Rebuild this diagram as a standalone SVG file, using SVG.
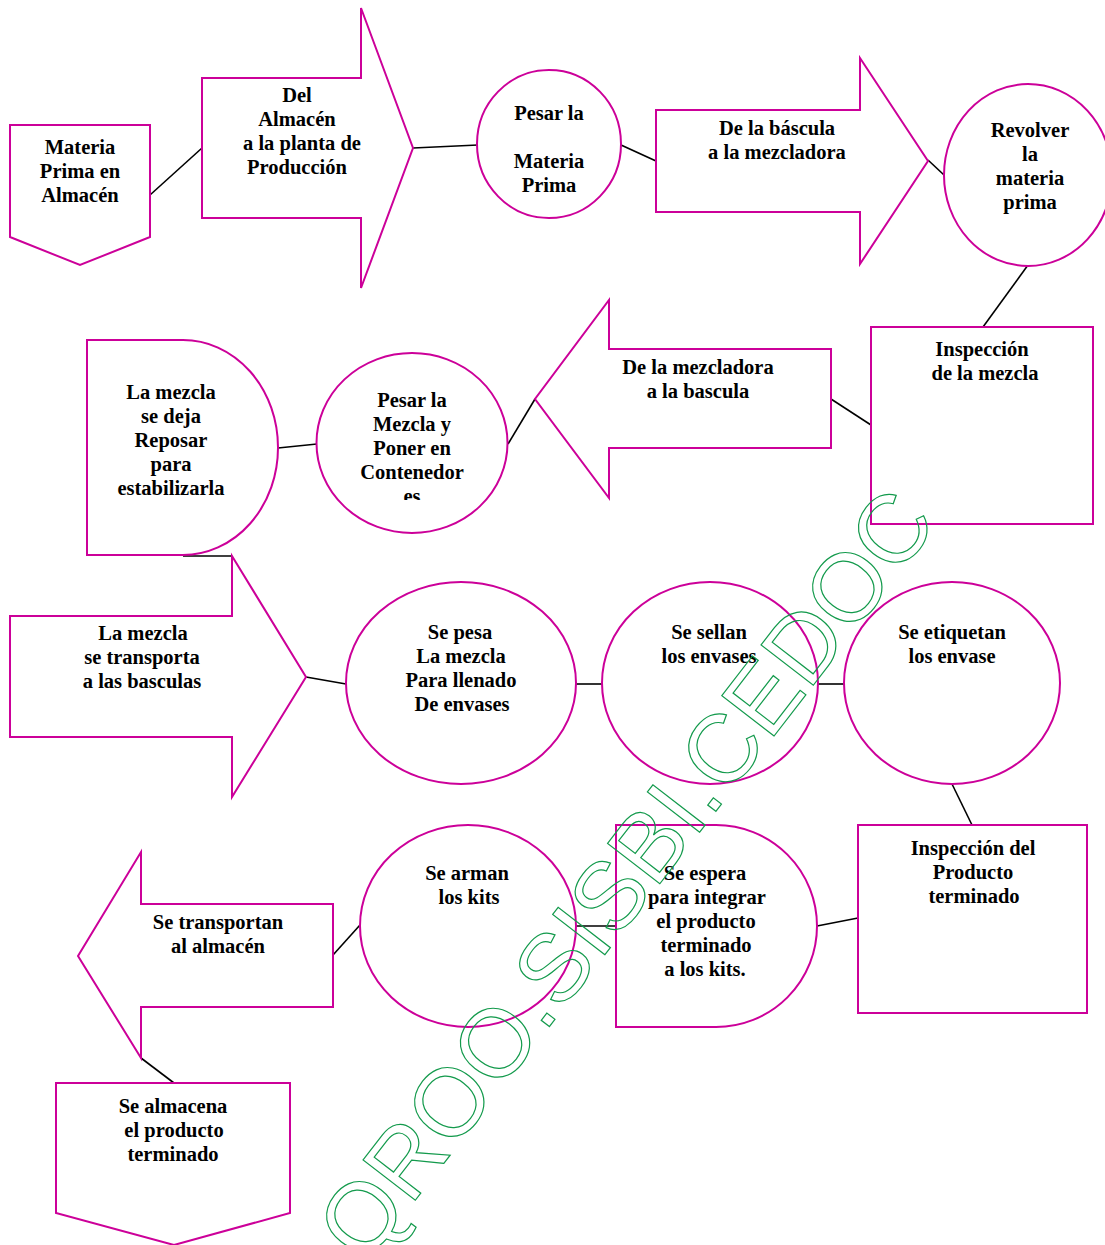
<svg xmlns="http://www.w3.org/2000/svg" width="1105" height="1245" viewBox="0 0 1105 1245">
  <style>
    .shape { fill: #ffffff; stroke: #cc0099; stroke-width: 2; stroke-linejoin: miter; }
    .conn line { stroke: #000000; stroke-width: 1.6; }
    .lbl { font-family: "Liberation Serif", "Times New Roman", serif; font-weight: bold; font-size: 20.5px; text-anchor: middle; fill: #000000; }
    .wm { font-family: "Liberation Sans", Arial, sans-serif; font-size: 96px; text-anchor: middle; fill: none; stroke: #139a4c; stroke-width: 1.2; }
  </style>
  <defs>
    <clipPath id="clip-contenedores">
      <rect x="300" y="350" width="230" height="150"/>
    </clipPath>
  </defs>
  <rect width="1105" height="1245" fill="#ffffff"/>

  <!-- connectors between the process steps -->
  <g id="connectors" class="conn">
    <line x1="150" y1="195" x2="202" y2="148"/>
    <line x1="413" y1="148" x2="478" y2="145"/>
    <line x1="621" y1="145" x2="656" y2="161"/>
    <line x1="928" y1="160" x2="944" y2="175"/>
    <line x1="1028" y1="265" x2="983" y2="327"/>
    <line x1="871" y1="425" x2="831" y2="399"/>
    <line x1="535" y1="399" x2="508" y2="444"/>
    <line x1="317" y1="444" x2="278" y2="448"/>
    <line x1="183" y1="556" x2="232" y2="556"/>
    <line x1="306" y1="677" x2="346" y2="684"/>
    <line x1="575" y1="684" x2="603" y2="684"/>
    <line x1="817" y1="684" x2="845" y2="684"/>
    <line x1="952" y1="784" x2="972" y2="825"/>
    <line x1="858" y1="918" x2="817" y2="926"/>
    <line x1="616" y1="926" x2="576" y2="926"/>
    <line x1="360" y1="925" x2="333" y2="955"/>
    <line x1="141" y1="1058" x2="174" y2="1083"/>
  </g>

  <!-- row 1 -->
  <g id="materia-prima-almacen">
    <path class="shape" d="M10,125 H150 V237 L80,265 L10,237 Z"/>
    <text class="lbl"><tspan x="80" y="154">Materia</tspan><tspan x="80" y="178">Prima en</tspan><tspan x="80" y="202">Almacén</tspan></text>
  </g>
  <g id="almacen-a-planta">
    <path class="shape" d="M202,78 H361 V8 L413,148 L361,288 V218 H202 Z"/>
    <text class="lbl"><tspan x="297" y="102">Del</tspan><tspan x="297" y="126">Almacén</tspan><tspan x="302" y="150">a la planta de</tspan><tspan x="297" y="174">Producción</tspan></text>
  </g>
  <g id="pesar-materia-prima">
    <ellipse class="shape" cx="549" cy="144" rx="72" ry="74"/>
    <text class="lbl"><tspan x="549" y="120">Pesar la</tspan><tspan x="549" y="168">Materia</tspan><tspan x="549" y="192">Prima</tspan></text>
  </g>
  <g id="bascula-a-mezcladora">
    <path class="shape" d="M656,110 H860 V58 L928,161 L860,264 V212 H656 Z"/>
    <text class="lbl"><tspan x="777" y="135">De la báscula</tspan><tspan x="777" y="159">a la mezcladora</tspan></text>
  </g>
  <g id="revolver-materia-prima">
    <ellipse class="shape" cx="1028" cy="175" rx="84" ry="91"/>
    <text class="lbl"><tspan x="1030" y="137">Revolver</tspan><tspan x="1030" y="161">la</tspan><tspan x="1030" y="185">materia</tspan><tspan x="1030" y="209">prima</tspan></text>
  </g>

  <!-- row 2 -->
  <g id="inspeccion-mezcla">
    <rect class="shape" x="871" y="327" width="222" height="197"/>
    <text class="lbl"><tspan x="982" y="356">Inspección</tspan><tspan x="985" y="380">de la mezcla</tspan></text>
  </g>
  <g id="mezcladora-a-bascula">
    <path class="shape" d="M831,349 V448 H609 V498 L535,399 L609,300 V349 Z"/>
    <text class="lbl"><tspan x="698" y="374">De la mezcladora</tspan><tspan x="698" y="398">a la bascula</tspan></text>
  </g>
  <g id="pesar-mezcla-contenedores">
    <ellipse class="shape" cx="412" cy="443" rx="95.5" ry="90"/>
    <text class="lbl" clip-path="url(#clip-contenedores)"><tspan x="412" y="407">Pesar la</tspan><tspan x="412" y="431">Mezcla y</tspan><tspan x="412" y="455">Poner en</tspan><tspan x="412" y="479">Contenedor</tspan><tspan x="412" y="503">es</tspan></text>
  </g>
  <g id="mezcla-reposo">
    <path class="shape" d="M87,340 H183 A95,107.5 0 0 1 183,555 H87 Z"/>
    <text class="lbl"><tspan x="171" y="399">La mezcla</tspan><tspan x="171" y="423">se deja</tspan><tspan x="171" y="447">Reposar</tspan><tspan x="171" y="471">para</tspan><tspan x="171" y="495">estabilizarla</tspan></text>
  </g>

  <!-- row 3 -->
  <g id="transporte-basculas">
    <path class="shape" d="M10,616 H232 V556 L306,677 L232,797 V737 H10 Z"/>
    <text class="lbl"><tspan x="143" y="640">La mezcla</tspan><tspan x="142" y="664">se transporta</tspan><tspan x="142" y="688">a las basculas</tspan></text>
  </g>
  <g id="pesar-llenado">
    <ellipse class="shape" cx="461" cy="683" rx="115" ry="101"/>
    <text class="lbl"><tspan x="460" y="639">Se pesa</tspan><tspan x="461" y="663">La mezcla</tspan><tspan x="461" y="687">Para llenado</tspan><tspan x="462" y="711">De envases</tspan></text>
  </g>
  <g id="sellar-envases">
    <ellipse class="shape" cx="710" cy="683" rx="108" ry="101"/>
    <text class="lbl"><tspan x="709" y="639">Se sellan</tspan><tspan x="709" y="663">los envases</tspan></text>
  </g>
  <g id="etiquetar-envases">
    <ellipse class="shape" cx="952" cy="683" rx="108" ry="101"/>
    <text class="lbl"><tspan x="952" y="639">Se etiquetan</tspan><tspan x="952" y="663">los envase</tspan></text>
  </g>

  <!-- row 4 -->
  <g id="inspeccion-producto">
    <rect class="shape" x="858" y="825" width="229" height="188"/>
    <text class="lbl"><tspan x="973" y="855">Inspección del</tspan><tspan x="973" y="879">Producto</tspan><tspan x="974" y="903">terminado</tspan></text>
  </g>
  <g id="espera-integrar-kits">
    <path class="shape" d="M616,825 H716 A101,101 0 0 1 716,1027 H616 Z"/>
    <text class="lbl"><tspan x="705" y="880">Se espera</tspan><tspan x="707" y="904">para integrar</tspan><tspan x="706" y="928">el producto</tspan><tspan x="706" y="952">terminado</tspan><tspan x="705" y="976">a los kits.</tspan></text>
  </g>
  <g id="armar-kits">
    <ellipse class="shape" cx="468" cy="926" rx="108" ry="101"/>
    <text class="lbl"><tspan x="467" y="880">Se arman</tspan><tspan x="469" y="904">los kits</tspan></text>
  </g>
  <g id="transporte-almacen">
    <path class="shape" d="M333,904 V1007 H141 V1058 L78,956 L141,852 V904 Z"/>
    <text class="lbl"><tspan x="218" y="929">Se transportan</tspan><tspan x="218" y="953">al almacén</tspan></text>
  </g>
  <g id="almacenar-producto">
    <path class="shape" d="M56,1083 H290 V1213 L174,1245 L56,1213 Z"/>
    <text class="lbl"><tspan x="173" y="1113">Se almacena</tspan><tspan x="174" y="1137">el producto</tspan><tspan x="173" y="1161">terminado</tspan></text>
  </g>

  <!-- outlined stamp across the sheet -->
  <text class="wm" transform="translate(611,947) rotate(-52.3)" x="0" y="0">UAQROO.SISBI.CEDOC</text>
</svg>
